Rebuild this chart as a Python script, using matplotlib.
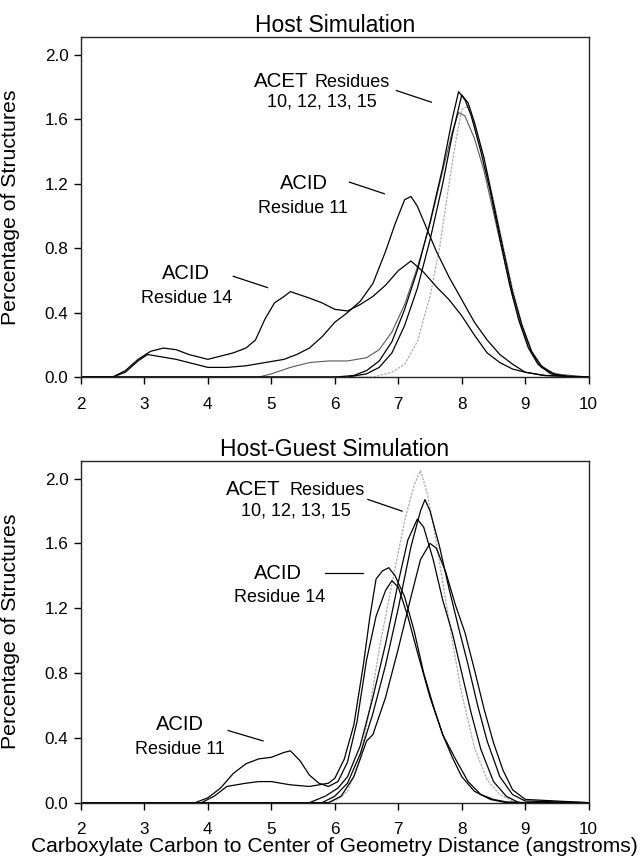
import matplotlib
matplotlib.use("Agg")
import matplotlib.pyplot as plt

plt.rcParams['font.family'] = ['Liberation Sans', 'DejaVu Sans']

# ---------------- Data: Host Simulation (top) ----------------
host_acid14_x = [2.0, 2.5, 2.7, 2.9, 3.1, 3.3, 3.5, 3.7, 4.0, 4.2, 4.4, 4.6, 4.75, 4.9, 5.05, 5.2, 5.3, 5.45, 5.6, 5.8, 6.0, 6.2, 6.4, 6.6, 6.8, 7.0, 7.2, 7.4, 7.6, 7.8, 8.0, 8.2, 8.4, 8.6, 8.8, 9.0, 9.3, 10.0]
host_acid14_y = [0.0, 0.0, 0.04, 0.11, 0.16, 0.18, 0.17, 0.14, 0.11, 0.13, 0.15, 0.18, 0.23, 0.36, 0.46, 0.50, 0.53, 0.51, 0.49, 0.46, 0.42, 0.41, 0.45, 0.50, 0.57, 0.66, 0.72, 0.65, 0.56, 0.48, 0.38, 0.26, 0.15, 0.09, 0.05, 0.03, 0.01, 0.0]

host_acid11_x = [2.0, 2.5, 2.7, 2.9, 3.05, 3.2, 3.5, 3.8, 4.0, 4.3, 4.6, 4.9, 5.2, 5.4, 5.6, 5.8, 6.0, 6.2, 6.4, 6.6, 6.8, 6.95, 7.1, 7.2, 7.3, 7.45, 7.6, 7.8, 8.0, 8.2, 8.4, 8.6, 8.8, 9.0, 9.3, 10.0]
host_acid11_y = [0.0, 0.0, 0.03, 0.10, 0.14, 0.13, 0.11, 0.08, 0.06, 0.06, 0.07, 0.09, 0.11, 0.14, 0.18, 0.25, 0.34, 0.40, 0.47, 0.58, 0.78, 0.95, 1.10, 1.12, 1.06, 0.92, 0.78, 0.62, 0.48, 0.34, 0.23, 0.14, 0.08, 0.03, 0.01, 0.0]

host_acet_a_x = [2.0, 6.0, 6.3, 6.5, 6.7, 6.9, 7.1, 7.3, 7.5, 7.7, 7.85, 7.95, 8.05, 8.15, 8.3, 8.45, 8.6, 8.75, 8.9, 9.05, 9.2, 9.4, 9.7, 10.0]
host_acet_a_y = [0.0, 0.0, 0.01, 0.04, 0.10, 0.22, 0.42, 0.66, 0.96, 1.30, 1.60, 1.77, 1.72, 1.62, 1.40, 1.15, 0.86, 0.58, 0.35, 0.18, 0.08, 0.02, 0.0, 0.0]

host_acet_b_x = [2.0, 6.2, 6.5, 6.7, 6.9, 7.1, 7.3, 7.5, 7.7, 7.85, 8.0, 8.1, 8.2, 8.35, 8.5, 8.65, 8.8, 8.95, 9.1, 9.25, 9.45, 9.7, 10.0]
host_acet_b_y = [0.0, 0.0, 0.02, 0.06, 0.15, 0.32, 0.55, 0.85, 1.20, 1.50, 1.75, 1.70, 1.58, 1.36, 1.08, 0.80, 0.53, 0.32, 0.16, 0.07, 0.02, 0.0, 0.0]

host_acet_c_x = [2.0, 4.8, 5.0, 5.3, 5.6, 5.9, 6.2, 6.5, 6.7, 6.9, 7.1, 7.3, 7.5, 7.7, 7.85, 7.95, 8.05, 8.2, 8.35, 8.5, 8.65, 8.8, 8.95, 9.1, 9.25, 9.45, 10.0]
host_acet_c_y = [0.0, 0.0, 0.02, 0.06, 0.09, 0.10, 0.10, 0.12, 0.17, 0.28, 0.45, 0.68, 0.95, 1.28, 1.52, 1.64, 1.62, 1.48, 1.28, 1.02, 0.76, 0.50, 0.30, 0.15, 0.06, 0.02, 0.0]

host_acet_d_x = [2.0, 6.6, 6.9, 7.1, 7.3, 7.5, 7.65, 7.8, 7.9, 8.0, 8.1, 8.2, 8.35, 8.5, 8.65, 8.8, 8.95, 9.1, 9.3, 9.5, 9.8, 10.0]
host_acet_d_y = [0.0, 0.0, 0.03, 0.08, 0.22, 0.50, 0.80, 1.20, 1.45, 1.66, 1.68, 1.55, 1.35, 1.10, 0.82, 0.55, 0.33, 0.16, 0.05, 0.02, 0.0, 0.0]

# ---------------- Data: Host-Guest Simulation (bottom) ----------------
hg_acid11_x = [2.0, 3.8, 4.0, 4.2, 4.4, 4.6, 4.8, 5.0, 5.2, 5.3, 5.45, 5.6, 5.75, 5.9, 6.05, 6.2, 6.35, 6.5, 6.65, 6.8, 6.9, 7.0, 7.15, 7.3, 7.5, 7.7, 7.9, 8.1, 8.3, 8.5, 8.7, 9.0, 10.0]
hg_acid11_y = [0.0, 0.0, 0.03, 0.09, 0.18, 0.24, 0.27, 0.28, 0.31, 0.32, 0.26, 0.17, 0.12, 0.10, 0.13, 0.25, 0.50, 0.88, 1.15, 1.31, 1.37, 1.33, 1.15, 0.93, 0.65, 0.42, 0.27, 0.13, 0.05, 0.02, 0.005, 0.0, 0.0]

hg_acid14_x = [2.0, 3.9, 4.1, 4.3, 4.6, 4.8, 5.0, 5.3, 5.6, 5.9, 6.0, 6.15, 6.3, 6.45, 6.55, 6.65, 6.75, 6.85, 6.95, 7.1, 7.25, 7.4, 7.55, 7.7, 7.85, 8.0, 8.2, 8.45, 8.7, 10.0]
hg_acid14_y = [0.0, 0.0, 0.04, 0.10, 0.12, 0.13, 0.13, 0.11, 0.10, 0.12, 0.15, 0.27, 0.48, 0.85, 1.14, 1.38, 1.43, 1.45, 1.40, 1.27, 1.06, 0.80, 0.60, 0.42, 0.28, 0.16, 0.07, 0.02, 0.0, 0.0]

hg_acet_gray_x = [2.0, 5.9, 6.05, 6.2, 6.4, 6.55, 6.7, 6.9, 7.1, 7.25, 7.35, 7.45, 7.55, 7.7, 7.85, 8.0, 8.2, 8.4, 8.6, 8.8, 9.0, 10.0]
hg_acet_gray_y = [0.0, 0.0, 0.02, 0.07, 0.27, 0.58, 0.95, 1.35, 1.74, 1.96, 2.05, 1.92, 1.72, 1.36, 1.00, 0.67, 0.34, 0.14, 0.05, 0.01, 0.0, 0.0]

hg_acet_a_x = [2.0, 5.6, 5.85, 6.05, 6.2, 6.4, 6.6, 6.8, 7.0, 7.15, 7.3, 7.4, 7.55, 7.7, 7.85, 8.0, 8.15, 8.3, 8.5, 8.7, 8.9, 10.0]
hg_acet_a_y = [0.0, 0.0, 0.04, 0.09, 0.16, 0.35, 0.65, 0.98, 1.36, 1.62, 1.75, 1.70, 1.50, 1.25, 1.05, 0.80, 0.55, 0.33, 0.13, 0.04, 0.0, 0.0]

hg_acet_b_x = [2.0, 5.8, 6.0, 6.2, 6.4, 6.6, 6.8, 7.0, 7.2, 7.35, 7.42, 7.5, 7.65, 7.8, 7.95, 8.1, 8.25, 8.4, 8.6, 8.8, 9.0, 10.0]
hg_acet_b_y = [0.0, 0.0, 0.04, 0.12, 0.30, 0.55, 0.85, 1.20, 1.58, 1.80, 1.87, 1.80, 1.58, 1.32, 1.08, 0.85, 0.60, 0.38, 0.16, 0.05, 0.01, 0.0]

hg_acet_c_x = [2.0, 5.9, 6.1, 6.3, 6.5, 6.6, 6.8, 7.0, 7.2, 7.35, 7.5, 7.6, 7.75, 7.9, 8.05, 8.2, 8.35, 8.5, 8.65, 8.8, 9.0, 10.0]
hg_acet_c_y = [0.0, 0.0, 0.04, 0.16, 0.38, 0.42, 0.65, 0.95, 1.27, 1.50, 1.60, 1.57, 1.42, 1.22, 1.05, 0.82, 0.58, 0.37, 0.20, 0.08, 0.02, 0.0]

x_ticks = [2, 3, 4, 5, 6, 7, 8, 9, 10]
y_ticks = [0.0, 0.4, 0.8, 1.2, 1.6, 2.0]
y_tick_labels = ["0.0", "0.4", "0.8", "1.2", "1.6", "2.0"]

titles = ["Host Simulation", "Host-Guest Simulation"]
ylabel = "Percentage of Structures"
xlabel = "Carboxylate Carbon to Center of Geometry Distance (angstroms)"

# ---------------- Figure ----------------
fig = plt.figure(figsize=(6.42, 8.57), dpi=100)
ax1 = fig.add_axes([0.126, 0.560, 0.791, 0.397])
ax2 = fig.add_axes([0.126, 0.0634, 0.791, 0.399])

BLACK = dict(color='black', lw=0.9)
DGRAY = dict(color='0.35', lw=0.8)
LGRAY = dict(color='0.68', lw=0.9, ls=(0, (2, 1)))

# top curves
ax1.plot(host_acet_d_x, host_acet_d_y, **LGRAY)
ax1.plot(host_acet_c_x, host_acet_c_y, **DGRAY)
ax1.plot(host_acet_a_x, host_acet_a_y, **BLACK)
ax1.plot(host_acet_b_x, host_acet_b_y, **BLACK)
ax1.plot(host_acid14_x, host_acid14_y, **BLACK)
ax1.plot(host_acid11_x, host_acid11_y, **BLACK)

# bottom curves
ax2.plot(hg_acet_gray_x, hg_acet_gray_y, **LGRAY)
ax2.plot(hg_acet_a_x, hg_acet_a_y, **BLACK)
ax2.plot(hg_acet_b_x, hg_acet_b_y, **BLACK)
ax2.plot(hg_acet_c_x, hg_acet_c_y, **BLACK)
ax2.plot(hg_acid14_x, hg_acid14_y, **BLACK)
ax2.plot(hg_acid11_x, hg_acid11_y, **BLACK)

for ax, title in zip([ax1, ax2], titles):
    ax.set_xlim(2, 10)
    ax.set_ylim(0, 2.11)
    ax.set_xticks(x_ticks)
    ax.set_xticklabels([str(t) for t in x_ticks])
    ax.set_yticks(y_ticks)
    ax.set_yticklabels(y_tick_labels)
    ax.tick_params(axis='both', direction='out', length=5, width=1, labelsize=12.3, colors='black')
    ax.tick_params(axis='x', pad=9)
    ax.tick_params(axis='y', pad=4)
    for s in ax.spines.values():
        s.set_linewidth(1.0)
        s.set_color('0.15')
    ax.set_title(title, fontsize=16.5, pad=3)
    ax.set_ylabel(ylabel, fontsize=15.3)
    ax.yaxis.set_label_coords(-0.119, 0.5)

ax2.set_xlabel(xlabel, fontsize=15.1, labelpad=0)

# ---------------- Annotations ----------------
def two_size(ax, x1, x2, y, big, small):
    ax.text(x1, y, big, fontsize=14.8, ha='left', va='baseline')
    ax.text(x2, y, small, fontsize=13.0, ha='left', va='baseline')

# top panel
two_size(ax1, 4.72, 5.68, 1.80, "ACET", "Residues")
ax1.text(5.79, 1.675, "10, 12, 13, 15", fontsize=13.0, ha='center', va='baseline')
ax1.plot([6.97, 7.52], [1.777, 1.705], color='black', lw=0.9)
ax1.text(5.52, 1.166, "ACID", fontsize=14.5, ha='center', va='baseline')
ax1.text(5.50, 1.019, "Residue 11", fontsize=13.0, ha='center', va='baseline')
ax1.plot([6.23, 6.78], [1.209, 1.137], color='black', lw=0.9)
ax1.text(3.66, 0.609, "ACID", fontsize=14.5, ha='center', va='baseline')
ax1.text(3.67, 0.461, "Residue 14", fontsize=13.0, ha='center', va='baseline')
ax1.plot([4.40, 4.94], [0.625, 0.555], color='black', lw=0.9)

# bottom panel
two_size(ax2, 4.29, 5.29, 1.90, "ACET", "Residues")
ax2.text(5.39, 1.77, "10, 12, 13, 15", fontsize=13.0, ha='center', va='baseline')
ax2.plot([6.52, 7.06], [1.871, 1.799], color='black', lw=0.9)
ax2.text(5.11, 1.38, "ACID", fontsize=14.5, ha='center', va='baseline')
ax2.text(5.13, 1.24, "Residue 14", fontsize=13.0, ha='center', va='baseline')
ax2.plot([5.84, 6.45], [1.418, 1.418], color='black', lw=0.9)
ax2.text(3.56, 0.45, "ACID", fontsize=14.5, ha='center', va='baseline')
ax2.text(3.56, 0.30, "Residue 11", fontsize=13.0, ha='center', va='baseline')
ax2.plot([4.32, 4.87], [0.445, 0.381], color='black', lw=0.9)

fig.savefig("out.png", dpi=100, facecolor='white')
